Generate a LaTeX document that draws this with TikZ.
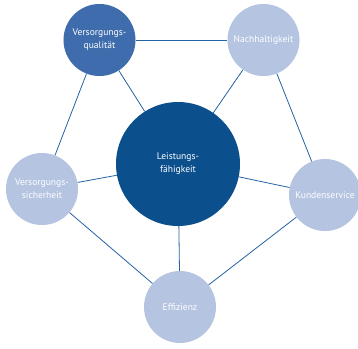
\documentclass[tikz,border=0pt]{standalone}
\usepackage{fontspec}
\setmainfont{PT Sans}
\definecolor{dunkelblau}{HTML}{0B4F8D}
\definecolor{mittelblau}{HTML}{3F6CAC}
\definecolor{hellblau}{HTML}{B4C4E1}
\definecolor{linienblau}{HTML}{2462A4}
\begin{document}
\begin{tikzpicture}[x=1bp,y=-1bp,
		kreis/.style={circle,inner sep=0pt,minimum size=72bp,text=white,align=center,
			font=\fontsize{9.6}{13}\selectfont},
		linie/.style={draw=linienblau,line width=0.8bp}]
		\useasboundingbox (0,0) rectangle (358,349);
		% Kreise
		\node[kreis,fill=dunkelblau,minimum size=124bp] (mitte) at (178,164) {Leistungs-\\fähigkeit};
		\node[kreis,fill=mittelblau] (qualitaet) at (99.5,40) {Versorgungs-\\qualität};
		\node[kreis,fill=hellblau] (nachhaltig) at (263.5,40) {Nachhaltigkeit};
		\node[kreis,fill=hellblau] (sicherheit) at (42,189) {Versorgungs-\\sicherheit};
		\node[kreis,fill=hellblau] (kunden) at (325,195) {Kundenservice};
		\node[kreis,fill=hellblau] (effizienz) at (180,307) {Effizienz};
		% Fuenfeck aussen
		\draw[linie](qualitaet)--(nachhaltig);
		\draw[linie](nachhaltig)--(kunden);
		\draw[linie](kunden)--(effizienz);
		\draw[linie](effizienz)--(sicherheit);
		\draw[linie](sicherheit)--(qualitaet);
		% Speichen
		\foreach \n in {qualitaet,nachhaltig,sicherheit,kunden,effizienz}
			\draw[linie](mitte)--(\n);
	\end{tikzpicture}
\end{document}
